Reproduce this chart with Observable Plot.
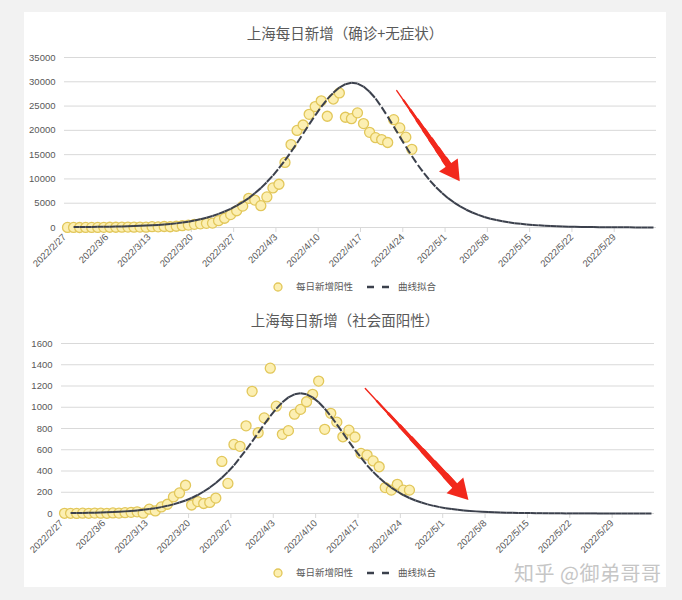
<!DOCTYPE html>
<html>
<head>
<meta charset="utf-8">
<script src="https://cdn.jsdelivr.net/npm/d3@7"></script>
<script src="https://cdn.jsdelivr.net/npm/@observablehq/plot@0.6"></script>
<style>
  html, body { margin: 0; padding: 0; }
  body { width: 682px; height: 600px; background: #f2f2f2; position: relative; overflow: hidden; font-family: "Noto Sans CJK SC", "Noto Sans", sans-serif; }
  #panel { position: absolute; left: 24px; top: 12px; width: 642px; height: 575px; background: #ffffff; }
  .title { position: absolute; left: 24px; width: 642px; text-align: center; font-size: 14.5px; line-height: 20px; color: #595959; font-family: "Noto Sans CJK SC", sans-serif; }
  .chart { position: absolute; left: 24px; }
  .legend { position: absolute; left: 0; width: 682px; height: 20px; }
  #wm { position: absolute; left: 514px; top: 559px; font-size: 20px; line-height: 28px; letter-spacing: 0.5px; color: #c6c6c6; font-family: "Noto Sans CJK SC", sans-serif; white-space: nowrap; }
</style>
</head>
<body>
<div id="panel"></div>
<div class="title" style="top:23px">上海每日新增（确诊+无症状）</div>
<div class="chart" id="c1" style="top:45px"></div>
<div class="title" style="top:310px">上海每日新增（社会面阳性）</div>
<div class="chart" id="c2" style="top:330px"></div>
<div id="wm">知乎 @御弟哥哥</div>
<script>
// ---------- data ----------
const dotStart = "2022-02-27";   // first daily observation
const fitStart = "2022-02-28";   // first fitted-curve value
const xDomain = ["2022-02-27", "2022-06-05"];
const xTickDates = ["2022-02-27","2022-03-06","2022-03-13","2022-03-20","2022-03-27","2022-04-03","2022-04-10",
                    "2022-04-17","2022-04-24","2022-05-01","2022-05-08","2022-05-15","2022-05-22","2022-05-29"];

const seriesNames = ["每日新增阳性", "曲线拟合"];

// Chart 1: confirmed + asymptomatic, daily new
const yTicks1 = [0, 5000, 10000, 15000, 20000, 25000, 30000, 35000];
const daily1 = [20, 10, 5, 8, 16, 19, 28, 48, 54, 62, 79, 75, 83, 65, 169, 139, 202, 158,
                260, 370, 500, 650, 750, 850, 900, 1400, 1900, 2650, 3450, 4400, 6000, 5650, 4500, 6300, 8150, 8900,
                13400, 17070, 19990, 21100, 23300, 24900, 26090, 22900, 26450, 27700, 22700, 22400, 23600, 21400,
                19600, 18500, 18100, 17500, 22200, 20500, 18600, 16100];
const fit1 = [90, 100, 112, 125, 140, 158, 178, 200, 226, 256,
              292, 335, 388, 450, 525, 615, 720, 850, 1010, 1200,
              1430, 1700, 2020, 2380, 2800, 3287, 3844, 4485, 5230, 6050,
              7033, 8106, 9357, 10700, 12220, 13830, 15560, 17400, 19310, 21220,
              23060, 24850, 26430, 27740, 28820, 29500, 29790, 29640, 29010, 27950,
              26550, 24790, 22830, 20800, 18710, 16660, 14720, 12870, 11180, 9660,
              8280, 7090, 6040, 5140, 4345, 3660, 3087, 2600, 2163, 1818,
              1535, 1281, 1073, 894, 751, 626, 524, 438, 364, 307,
              256, 212, 176, 146, 122, 104, 86, 72, 60, 49,
              41, 35, 29, 24, 20, 17, 14];
const arrow1 = {x1: "2022-04-23T00:00Z", y1: 28200, x2: "2022-05-03T08:00Z", y2: 9700};

// Chart 2: community-level positives, daily new
const yTicks2 = [0, 200, 400, 600, 800, 1000, 1200, 1400, 1600];
const daily2 = [2, 2, 1, 3, 2, 4, 3, 2, 5, 4, 8, 11,
                16, 3, 41, 24, 62, 87, 156, 194, 266, 80, 112, 94, 104, 145, 490, 283, 650, 632,
                825, 1150, 760, 900, 1368, 1010, 745, 780, 935, 980, 1052, 1122, 1246, 792, 943, 860, 722, 784,
                720, 565, 550, 495, 440, 244, 220, 275, 220, 220];
const fit2 = [4, 5, 5, 7, 8, 10, 11, 14, 17, 20,
              24, 29, 35, 42, 50, 60, 72, 86, 103, 122,
              146, 174, 207, 244, 287, 337, 392, 453, 525, 599,
              676, 759, 839, 917, 987, 1047, 1093, 1122, 1132, 1122,
              1093, 1047, 987, 917, 839, 759, 676, 599, 525, 453,
              392, 337, 287, 244, 207, 174, 146, 122, 103, 86,
              72, 60, 50, 42, 35, 29, 24, 20, 17, 14,
              11, 10, 8, 7, 5, 5, 4, 3, 3, 2,
              2, 2, 1, 1, 1, 1, 1, 1, 0, 0,
              0, 0, 0, 0, 0, 0, 0];
const arrow2 = {x1: "2022-04-18T05:00Z", y1: 1177, x2: "2022-05-05T02:00Z", y2: 134};

// ---------- helpers ----------
const DAY = 864e5;
const toDate = s => new Date(s.length <= 10 ? s + "T00:00Z" : s);
const addDays = (s, i) => new Date(+toDate(s) + i * DAY);
const mid = d => new Date(+d + DAY / 2);   // points sit in the middle of their day
const fmtDate = d => `${d.getUTCFullYear()}/${d.getUTCMonth() + 1}/${d.getUTCDate()}`;

const DOT_FILL = "#fcefb2", DOT_STROKE = "#e2c75a", LINE = "#3b404c", RED = "#f2281c", GRID = "#d9d9d9", TXT = "#595959";

function chart({daily, fit, yTicks, arrow, marginLeft, marginRight, marginTop, marginBottom, rot, headDx, headDy, step}) {
  const dots = daily.map((v, i) => ({date: addDays(dotStart, i), value: v}));
  const curve = fit.map((v, i) => ({date: addDays(fitStart, i), value: v}));
  const segs = d3.pairs(curve).map(([a, b]) => ({x1: a.date, y1: a.value, x2: b.date, y2: b.value}));
  const arr = [{x1: toDate(arrow.x1), y1: arrow.y1, x2: toDate(arrow.x2), y2: arrow.y2}];
  // tapered shaft: successive, thicker pieces towards the head
  const shaft = d3.range(8).map(k => Plot.arrow(arr, {x1: "x1", y1: "y1", x2: "x2", y2: "y2", stroke: RED,
    strokeWidth: 1.4 + k * 0.75, headLength: 0, insetStart: k * step, insetEnd: 11}));
  return Plot.plot({
    width: 642, height: 230,
    marginLeft, marginRight, marginTop, marginBottom,
    style: {fontFamily: "'Liberation Sans', 'DejaVu Sans', sans-serif", fontSize: "9.5px", color: TXT, background: "transparent"},
    x: {type: "utc", domain: xDomain.map(toDate)},
    y: {domain: [0, d3.max(yTicks)]},
    marks: [
      Plot.ruleY(yTicks, {stroke: GRID, strokeWidth: 1}),
      Plot.axisY({ticks: yTicks, tickSize: 0, tickPadding: 9, tickFormat: d3.format("d"), label: null, fill: TXT}),
      Plot.axisX({ticks: xTickDates.map(toDate), tickFormat: fmtDate, tickRotate: -45, tickSize: 5, tickPadding: 3,
                  label: null, stroke: GRID, fill: TXT}),
      Plot.dot(dots, {x: d => mid(d.date), y: "value", r: 5, fill: DOT_FILL, stroke: DOT_STROKE, strokeWidth: 1.3}),
      Plot.link(segs, {x1: d => mid(d.x1), y1: "y1", x2: d => mid(d.x2), y2: "y2",
                       stroke: LINE, strokeWidth: 2, strokeDasharray: "8,3.5", strokeLinecap: "butt"}),
      ...shaft,
      Plot.dot(arr, {x: "x2", y: "y2", symbol: "triangle", r: 8.5, fill: RED, stroke: "none", rotate: rot, dx: headDx, dy: headDy})
    ]
  });
}

function legend(top) {
  const svg = d3.select(document.body).append("svg").attr("class", "legend").attr("width", 682).attr("height", 20)
    .style("top", (top - 10) + "px");
  svg.append("circle").attr("cx", 278).attr("cy", 10).attr("r", 4).attr("fill", DOT_FILL).attr("stroke", DOT_STROKE).attr("stroke-width", 1.3);
  svg.append("line").attr("x1", 367).attr("x2", 389).attr("y1", 10).attr("y2", 10).attr("stroke", LINE)
    .attr("stroke-width", 2.5).attr("stroke-dasharray", "7,8");
  const t = [[296, seriesNames[0]], [398, seriesNames[1]]];
  svg.selectAll("text").data(t).join("text").attr("x", d => d[0]).attr("y", 10).attr("dy", "0.35em")
    .attr("fill", TXT).style("font-size", "9.5px").style("font-family", "'Noto Sans CJK SC', sans-serif").text(d => d[1]);
}

document.getElementById("c1").append(chart({daily: daily1, fit: fit1, yTicks: yTicks1, arrow: arrow1,
  marginLeft: 40, marginRight: 10, marginTop: 12, marginBottom: 48, rot: 145, headDx: -7, headDy: -10, step: 12}));
document.getElementById("c2").append(chart({daily: daily2, fit: fit2, yTicks: yTicks2, arrow: arrow2,
  marginLeft: 37, marginRight: 12, marginTop: 13, marginBottom: 47, rot: 137, headDx: -8, headDy: -9, step: 17}));
legend(287);
legend(573);
</script>
</body>
</html>
